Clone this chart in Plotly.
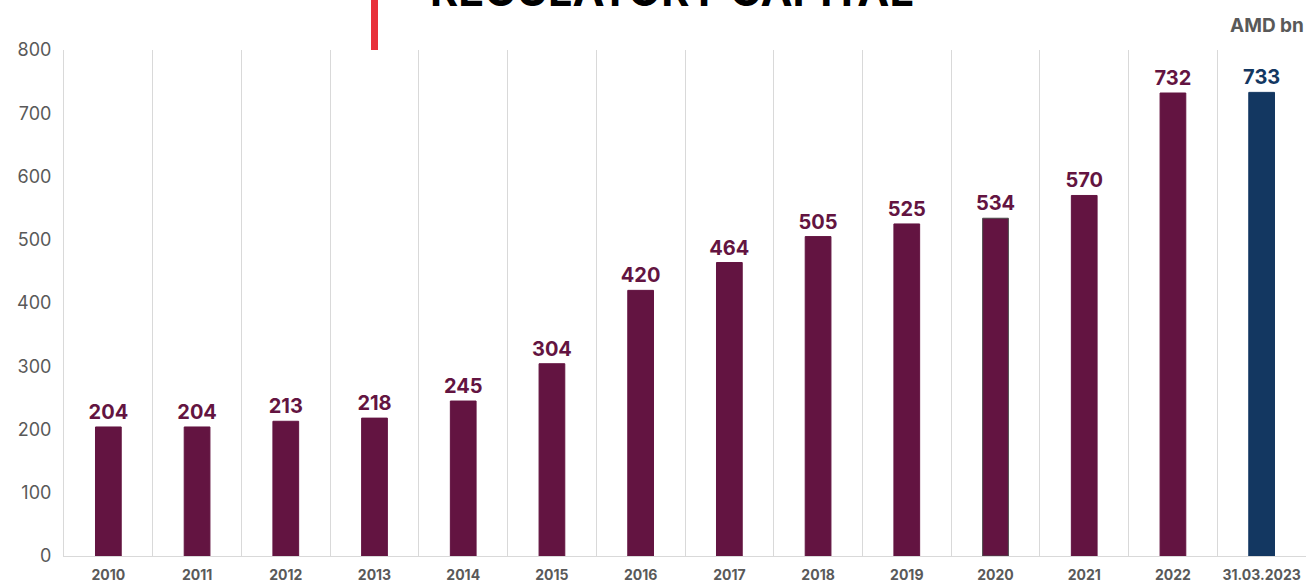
import plotly.graph_objects as go

categories = ["2010", "2011", "2012", "2013", "2014", "2015", "2016", "2017",
              "2018", "2019", "2020", "2021", "2022", "31.03.2023"]
capital = [204, 204, 213, 218, 245, 304, 420, 464, 505, 525, 534, 570, 732, 733]

WINE = "#631441"
NAVY = "#133761"
bar_colors = [WINE] * (len(categories) - 1) + [NAVY]
line_colors = [WINE] * len(categories)
line_colors[10] = "#4a4a4a"
line_colors[-1] = NAVY

FONT = "Inter, Lato, sans-serif"
PLOT_H = 506
PLOT_W = 1242

fig = go.Figure()
fig.add_trace(go.Bar(
    x=categories,
    y=capital,
    width=0.29,
    marker=dict(color=bar_colors, line=dict(color=line_colors, width=1)),
    text=capital,
    texttemplate="<b>%{text}</b>",
    textposition="outside",
    constraintext="none",
    textfont=dict(family=FONT, size=20, color=bar_colors),
    cliponaxis=False,
))

fig.update_layout(
    width=1306, height=582,
    margin=dict(l=64, r=0, t=50, b=26),
    plot_bgcolor="white", paper_bgcolor="white",
    showlegend=False,
    xaxis=dict(
        type="category",
        range=[-0.5, 13.5],
        tickson="boundaries",
        showgrid=True, gridcolor="#d9d9d9", gridwidth=1,
        ticks="", showline=True, linecolor="#d9d9d9", linewidth=1,
        tickfont=dict(family=FONT, size=14, color="#595959", weight="bold"),
        ticklabelstandoff=6,
    ),
    yaxis=dict(
        range=[0, 800], dtick=100,
        showgrid=False, zeroline=False,
        showline=True, linecolor="#d9d9d9", linewidth=1,
        ticks="",
        tickfont=dict(family=FONT, size=18, color="#595959"),
        ticklabelstandoff=8,
    ),
    font=dict(family=FONT),
)

# Title sits above the plot, partly beyond the top edge of the page
fig.add_annotation(
    text="<b>REGULATORY CAPITAL</b>", xref="paper", yref="paper",
    x=(672 - 64) / PLOT_W, y=1 + (50 - 18) / PLOT_H,
    xanchor="center", yanchor="bottom",
    showarrow=False, font=dict(family=FONT, size=43, color="#000000"),
)
fig.add_annotation(
    text="<b>AMD bn</b>", xref="paper", yref="paper",
    x=1.0, y=1 + (50 - 25) / PLOT_H, xanchor="right", yanchor="middle",
    showarrow=False, font=dict(family=FONT, size=19, color="#595959"),
)
fig.add_shape(
    type="rect", xref="paper", yref="paper",
    x0=(371 - 64) / PLOT_W, x1=(378 - 64) / PLOT_W,
    y0=1, y1=1 + 50 / PLOT_H,
    fillcolor="#e8303a", line=dict(width=0),
)

fig.write_html("out.html")
